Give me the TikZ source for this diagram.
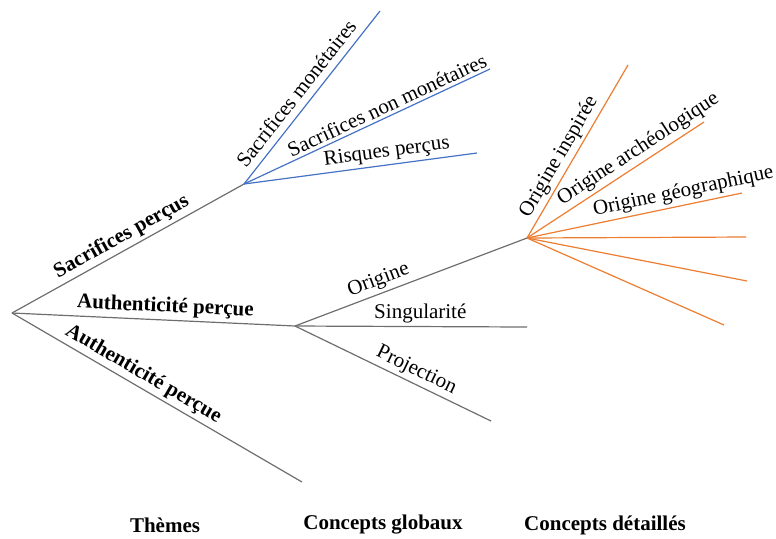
\documentclass[tikz,border=0pt]{standalone}
\usepackage{fontspec}
\setmainfont{Liberation Serif}
\usetikzlibrary{positioning}

\definecolor{linegray}{HTML}{6E6E6E}
\definecolor{sacrblue}{HTML}{4472C4}
\definecolor{origorange}{HTML}{ED7D31}

\begin{document}
\begin{tikzpicture}[x=0.5pt, y=-0.5pt,
    branch/.style={draw=linegray, line width=0.6pt},
    sacrline/.style={draw=sacrblue, line width=0.6pt},
    origline/.style={draw=origorange, line width=0.6pt},
    lbl/.style={sloped, above, inner sep=1.5pt,
      font=\fontsize{10.5}{12}\selectfont},
    theme/.style={lbl, font=\fontsize{10.5}{12}\selectfont\bfseries},
    heading/.style={font=\fontsize{10.5}{12}\selectfont\bfseries}]
  \useasboundingbox (0,0) rectangle (776,538);

  % branch points
  \coordinate (root) at (12,313);
  \coordinate (sacr) at (244,184);
  \coordinate (auth) at (295,326);
  \coordinate (authlow) at (302,482);
  \coordinate (orig) at (527,238);

  % themes
  \draw[branch] (root) -- node[theme, pos=0.5] {Sacrifices perçus} (sacr);
  \draw[branch] (root) -- node[theme, pos=0.54] {Authenticité perçue} (auth);
  \draw[branch] (root) -- node[theme, pos=0.43] {Authenticité perçue} (authlow);

  % concepts globaux
  \coordinate (monet) at (380,11);
  \coordinate (nonmonet) at (490,69);
  \coordinate (risques) at (477,153);
  \draw[sacrline] (sacr) -- node[lbl, pos=0.47, inner sep=3.5pt] {Sacrifices monétaires} (monet);
  \draw[sacrline] (sacr) -- node[lbl, pos=0.6] {Sacrifices non monétaires} (nonmonet);
  \draw[sacrline] (sacr) -- node[lbl, pos=0.62] {Risques perçus} (risques);

  \coordinate (singul) at (527,327);
  \coordinate (proj) at (491,421);
  \draw[branch] (auth) -- node[lbl, pos=0.38] {Origine} (orig);
  \draw[branch] (auth) -- node[lbl, pos=0.54] {Singularité} (singul);
  \draw[branch] (auth) -- node[lbl, pos=0.59] {Projection} (proj);

  % concepts detailles
  \coordinate (inspiree) at (628,65);
  \coordinate (archeo) at (704,122);
  \coordinate (geo) at (742,193);
  \coordinate (o4) at (746,237);
  \coordinate (o5) at (747,281);
  \coordinate (o6) at (724,325);
  \draw[origline] (orig) -- node[lbl, pos=0.43] {Origine inspirée} (inspiree);
  \draw[origline] (orig) -- node[lbl, pos=0.67] {Origine archéologique} (archeo);
  \draw[origline] (orig) -- node[lbl, pos=0.74] {Origine géographique} (geo);
  \foreach \name in {o4, o5, o6}
    \draw[origline] (orig) -- (\name);

  % column headings
  \node[heading] (themes) at (165,525) {Thèmes};
  \node[heading] (globaux) at (383,525) {Concepts globaux};
  \node[heading] (detailles) at (605,525) {Concepts détaillés};
\end{tikzpicture}
\end{document}
